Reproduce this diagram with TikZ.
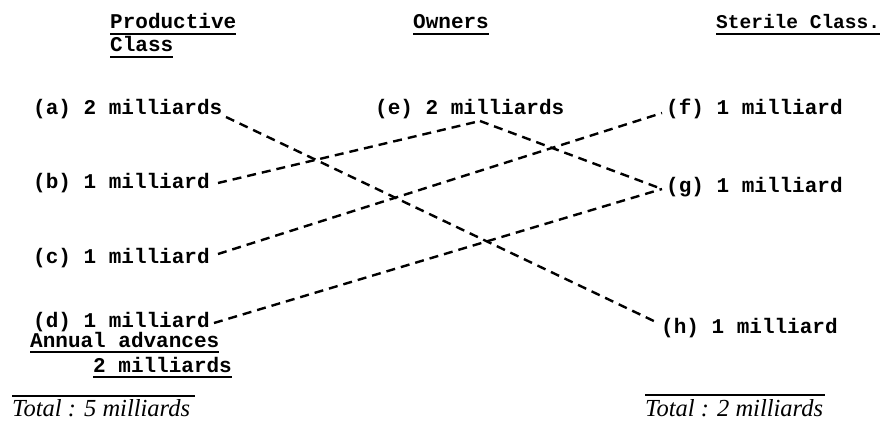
\documentclass[tikz,border=0pt]{standalone}
\usepackage{fontspec}
\setmainfont{Liberation Serif}
\setmonofont{Liberation Mono}
\begin{document}
\begin{tikzpicture}[x=1pt,y=-1pt,
  lbl/.style={font=\ttfamily\bfseries\fontsize{21}{24}\selectfont, inner sep=0pt, anchor=base west},
  tot/.style={font=\itshape\fontsize{24.5}{28}\selectfont, inner sep=0pt, anchor=base west},
  flow/.style={line width=2.4pt, dash pattern=on 9pt off 6pt},
  uline/.style={line width=1.4pt}]
\useasboundingbox[fill=white] (0,0) rectangle (893,422);

% column headings
\node[lbl] (hprod) at (110,29) {Productive};
\node[lbl] (hclass) at (110,52) {Class};
\node[lbl] (hown) at (413,29) {Owners};
\node[lbl, font=\ttfamily\bfseries\fontsize{19.5}{24}\selectfont] (hster) at (716,29) {Sterile Class.};
\foreach \h in {hprod,hclass,hown,hster}
  \draw[uline] ([yshift=-5pt]\h.base west) -- ([yshift=-5pt]\h.base east);

% productive class
\node[lbl] (a) at (33,115) {(a) 2 milliards};
\node[lbl] (b) at (33,188) {(b) 1 milliard};
\node[lbl] (c) at (33,263) {(c) 1 milliard};
\node[lbl] (d) at (33,327) {(d) 1 milliard};
\node[lbl] (adv) at (30,347) {Annual advances};
\node[lbl] (advv) at (93,372) {2 milliards};
\draw[uline] ([yshift=-5pt]adv.base west) -- ([yshift=-5pt]adv.base east);
\draw[uline] ([yshift=-5pt]advv.base west) -- ([yshift=-5pt]advv.base east);

% owners
\node[lbl] (e) at (375,115) {(e) 2 milliards};

% sterile class
\node[lbl] (f) at (666,115) {(f) 1 milliard};
\node[lbl] (g) at (666,193) {(g) 1 milliard};
\node[lbl] (h) at (661,333) {(h) 1 milliard};

% totals
\node[tot] (ta) at (12,416) {Total : 5 milliards};
\node[tot] (tb) at (645,416) {Total : 2 milliards};
\draw[line width=1.2pt] (12,396) -- (195,396);
\draw[line width=1.2pt] (645,395) -- (825,395);

% ends of the flows
\coordinate (pa) at (226,117);
\coordinate (pb) at (218,183);
\coordinate (pc) at (218,254);
\coordinate (pd) at (214,323);
\coordinate (pe) at (480,121);
\coordinate (pf) at (662,113);
\coordinate (pg) at (662,189);
\coordinate (ph) at (658,323);

% flows
\draw[flow] (pa) -- (ph);
\draw[flow] (pb) -- (pe);
\draw[flow] (pe) -- (pg);
\draw[flow] (pc) -- (pf);
\draw[flow] (pd) -- (pg);
\end{tikzpicture}
\end{document}
